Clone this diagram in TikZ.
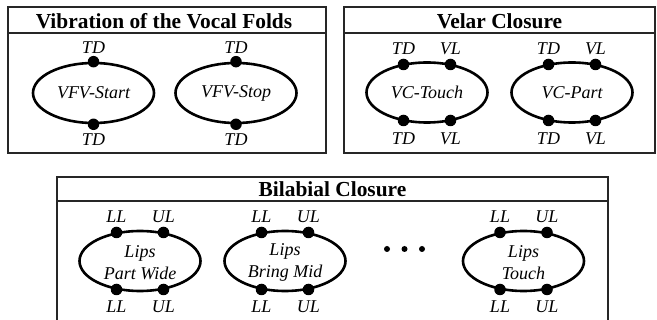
\documentclass[tikz,border=0pt]{standalone}
\usepackage{fontspec}
\setmainfont{Liberation Serif}
\usetikzlibrary{shapes.geometric,calc}
\tikzset{
  x=1pt, y=-1pt,
  panel/.style={draw=black!85, line width=1.4pt},
  gesture/.style={ellipse, draw, line width=2.6pt, minimum width=121pt, minimum height=60pt, inner sep=0pt, align=center, font=\fontsize{18}{22}\selectfont\itshape},
  joint/.style={circle, fill, inner sep=0pt, minimum size=11.5pt},
  tract/.style={font=\fontsize{18}{20}\selectfont\itshape, inner sep=0pt},
  heading/.style={font=\fontsize{21.4}{23}\selectfont\bfseries, inner sep=0pt},
  ellip/.style={circle, fill, inner sep=0pt, minimum size=6pt}
}
\begin{document}
\begin{tikzpicture}
\useasboundingbox (0,0) rectangle (657,320);
\fill[white] (0,0) rectangle (657,320);
% panels
\draw[panel] (8,7) rectangle (326,153);
\draw[panel] (8,33) -- (326,33);
\draw[panel] (344,7) rectangle (655,153);
\draw[panel] (344,33) -- (655,33);
\draw[panel] (57,330) -- (57,177) -- (608,177) -- (608,330);
\draw[panel] (57,201) -- (608,201);
\node[heading] (h1) at (164,21) {Vibration of the Vocal Folds};
\node[heading] (h2) at (499.5,21) {Velar Closure};
\node[heading] (h3) at (332.5,189) {Bilabial Closure};
% Vocal folds
\node[gesture] (e1) at (93.5,93) {VFV-Start};
\node[gesture] (e2) at (236,93) {VFV-Stop};
\foreach \e in {e1,e2}{
  \node[joint] (\e t) at (\e.north) {};
  \node[joint] (\e b) at (\e.south) {};
  \node[tract] at ($(\e.north)+(0,-14)$) {TD};
  \node[tract] at ($(\e.south)+(0,15)$) {TD};
}
% Velar
\node[gesture] (e3) at (427,92.5) {VC-Touch};
\node[gesture] (e4) at (572,92.5) {VC-Part};
\foreach \e in {e3,e4}{
  \node[joint] (\e a) at ($(\e.center)+(-23.5,-28)$) {};
  \node[joint] (\e b) at ($(\e.center)+(23.5,-28)$) {};
  \node[joint] (\e c) at ($(\e.center)+(-23.5,28)$) {};
  \node[joint] (\e d) at ($(\e.center)+(23.5,28)$) {};
  \node[tract] at ($(\e a)+(0,-16)$) {TD};
  \node[tract] at ($(\e b)+(0,-16)$) {VL};
  \node[tract] at ($(\e c)+(0,18)$) {TD};
  \node[tract] at ($(\e d)+(0,18)$) {VL};
}
% Bilabial
\node[gesture] (e5) at (140,261) {};
\node[gesture] (e6) at (285,261) {};
\node[gesture] (e7) at (523.5,261) {};
\node[gesture, draw=none, yshift=-1.5pt] (t5) at (e5.center) {Lips\\Part Wide};
\node[gesture, draw=none, yshift=-1.5pt] (t6) at (e6.center) {Lips\\Bring Mid};
\node[gesture, draw=none, yshift=-1.5pt] (t7) at (e7.center) {Lips\\Touch};
\foreach \e in {e5,e6,e7}{
  \node[joint] (\e a) at ($(\e.center)+(-23.5,-28.5)$) {};
  \node[joint] (\e b) at ($(\e.center)+(23.5,-28.5)$) {};
  \node[joint] (\e c) at ($(\e.center)+(-23.5,28.5)$) {};
  \node[joint] (\e d) at ($(\e.center)+(23.5,28.5)$) {};
  \node[tract] at ($(\e a)+(0,-16)$) {LL};
  \node[tract] at ($(\e b)+(0,-16)$) {UL};
  \node[tract] at ($(\e c)+(0,17)$) {LL};
  \node[tract] at ($(\e d)+(0,17)$) {UL};
}
\node[ellip] (d1) at (387,249) {};
\node[ellip] (d2) at (404.5,249) {};
\node[ellip] (d3) at (422,249) {};
\end{tikzpicture}
\end{document}
